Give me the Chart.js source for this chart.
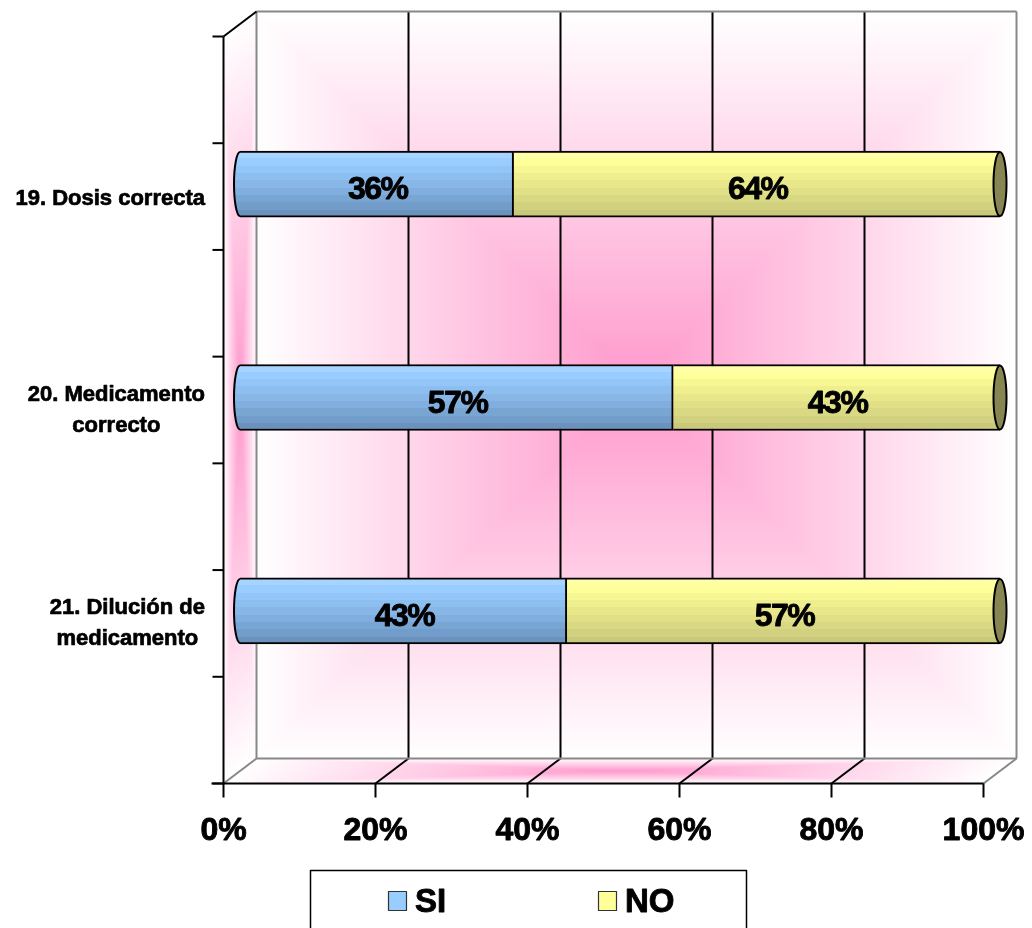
<!DOCTYPE html>
<html>
<head>
<meta charset="utf-8">
<script src="https://cdn.jsdelivr.net/npm/chart.js@4.4.0/dist/chart.umd.min.js"></script>
<style>
  html, body { margin: 0; padding: 0; background: #ffffff; }
  canvas { display: block; }
</style>
</head>
<body>
<canvas id="c" width="1032" height="928"></canvas>
<script>
// ---- data ----
const categories = [['19. Dosis correcta'], ['20. Medicamento', 'correcto'], ['21. Dilución de', 'medicamento']];
const seriesNames = ['SI', 'NO'];
const siValues = [36, 57, 43];
const noValues = [64, 43, 57];
const xTicks = [0, 20, 40, 60, 80, 100];

// each question sits between two empty slots on the category axis
const slotLabels = [''];
const siSlots = [null];
const noSlots = [null];
categories.forEach((c, i) => {
  slotLabels.push(c, '');
  siSlots.push(siValues[i], null);
  noSlots.push(noValues[i], null);
});

// ---- style ----
const FONT = '"Liberation Sans", Arial, Helvetica, sans-serif';
const DX = 16.5, DY = 12.5;           // half of the 3-D depth offset
const BAR_H = 66;
const BLUE_BANDS = ['#a6d3ff', '#99ccff', '#93c5f8', '#8dbef0', '#87b6e7', '#80aede', '#79a5d3', '#729cc9', '#6a92bd'];
const YELLOW_BANDS = ['#ffffa8', '#ffff99', '#f7f794', '#efef8f', '#e8e88b', '#e1e087', '#dad983', '#d2d17f', '#cac97b'];
const SWATCH = ['#99ccff', '#ffff99'];
const CAP_COLOR = '#878552';

function bandGradient(ctx, top, h, colors) {
  const g = ctx.createLinearGradient(0, top, 0, top + h);
  const n = colors.length;
  colors.forEach((c, i) => {
    g.addColorStop(i / n, c);
    g.addColorStop(Math.min(1, (i + 1) / n - 0.0005), c);
  });
  return g;
}

function barFill(bands, fallback) {
  return (ctx) => {
    const chart = ctx.chart;
    const y = chart.scales && chart.scales.y;
    if (!y || ctx.dataIndex === undefined || !chart.chartArea) return fallback;
    const cy = y.getPixelForValue(ctx.dataIndex);
    return bandGradient(chart.ctx, cy - BAR_H / 2, BAR_H, bands);
  };
}

// heavy bold text: fill plus a thin outline of the same colour
function boldText(ctx, s, x, y, weight) {
  ctx.fillText(s, x, y);
  ctx.lineWidth = weight;
  ctx.strokeStyle = ctx.fillStyle;
  ctx.lineJoin = 'round';
  ctx.strokeText(s, x, y);
}

// rectangular "from centre" shading of a parallelogram face: pink centre fading to white edges
function shadeFace(ctx, p0, a, b) {
  const pts = [p0, [p0[0] + a[0], p0[1] + a[1]], [p0[0] + b[0], p0[1] + b[1]], [p0[0] + a[0] + b[0], p0[1] + a[1] + b[1]]];
  const minX = Math.floor(Math.min(...pts.map(p => p[0])));
  const maxX = Math.ceil(Math.max(...pts.map(p => p[0])));
  const minY = Math.floor(Math.min(...pts.map(p => p[1])));
  const maxY = Math.ceil(Math.max(...pts.map(p => p[1])));
  const w = maxX - minX, h = maxY - minY;
  const off = document.createElement('canvas');
  off.width = w; off.height = h;
  const octx = off.getContext('2d');
  const img = octx.createImageData(w, h);
  const det = a[0] * b[1] - a[1] * b[0];
  for (let yy = 0; yy < h; yy++) {
    for (let xx = 0; xx < w; xx++) {
      const px = minX + xx + 0.5 - p0[0];
      const py = minY + yy + 0.5 - p0[1];
      const s = (px * b[1] - py * b[0]) / det;
      const t = (a[0] * py - a[1] * px) / det;
      if (s < 0 || s > 1 || t < 0 || t > 1) continue;
      const k = Math.max(Math.abs(2 * s - 1), Math.abs(2 * t - 1));
      const i = (yy * w + xx) * 4;
      img.data[i] = 255;
      img.data[i + 1] = Math.round(153 + 102 * k);
      img.data[i + 2] = Math.round(204 + 51 * k);
      img.data[i + 3] = 255;
    }
  }
  octx.putImageData(img, 0, 0);
  ctx.drawImage(off, minX, minY);
}

function line(ctx, x1, y1, x2, y2, color, width) {
  ctx.beginPath();
  ctx.moveTo(x1, y1);
  ctx.lineTo(x2, y2);
  ctx.strokeStyle = color;
  ctx.lineWidth = width;
  ctx.stroke();
}

const scenePlugin = {
  id: 'scene',
  beforeDatasetsDraw(chart) {
    const ctx = chart.ctx;
    const xs = chart.scales.x, ys = chart.scales.y;
    const a = chart.chartArea;
    const fL = a.left - DX, fR = a.right - DX, fT = a.top + DY, fB = a.bottom + DY;   // front plane
    const bL = a.left + DX, bR = a.right + DX, bT = a.top - DY, bB = a.bottom - DY;   // back plane
    ctx.save();
    // walls and floor
    shadeFace(ctx, [bL, bT], [bR - bL, 0], [0, bB - bT]);
    shadeFace(ctx, [fL, fT], [2 * DX, -2 * DY], [0, fB - fT]);
    shadeFace(ctx, [fL, fB], [fR - fL, 0], [2 * DX, -2 * DY]);

    const GRAY = '#878787';
    // gridlines on the back wall and across the floor
    xTicks.forEach((v, i) => {
      const x = xs.getPixelForValue(v);
      const edge = i === 0 || i === xTicks.length - 1;
      if (!edge) line(ctx, x + DX, bT, x + DX, bB, '#000000', 2);
      line(ctx, x - DX, fB, x + DX, bB, edge ? GRAY : '#000000', 2);
    });
    // back wall frame
    line(ctx, bL, bT, bR, bT, GRAY, 2);
    line(ctx, bL, bT, bL, bB, GRAY, 2);
    line(ctx, bR, bT, bR, bB, GRAY, 2);
    line(ctx, bL, bB, bR, bB, GRAY, 2);
    // side wall top edge
    line(ctx, fL, fT, bL, bT, '#000000', 2);
    // front axes
    line(ctx, fL, fT, fL, fB, '#000000', 2);
    line(ctx, fL - 12, fB, fR, fB, '#000000', 2);
    xTicks.forEach(v => {
      const x = xs.getPixelForValue(v) - DX;
      line(ctx, x, fB, x, fB + 14, '#000000', 2);
    });
    const band = (a.bottom - a.top) / slotLabels.length;
    for (let i = 0; i <= slotLabels.length; i++) {
      const y = (i < slotLabels.length ? ys.getPixelForValue(i) - band / 2 : a.bottom) + DY;
      line(ctx, fL - 11, y, fL, y, '#000000', 2);
    }
    ctx.restore();
  },
  afterDatasetsDraw(chart) {
    const ctx = chart.ctx;
    ctx.save();
    const siMeta = chart.getDatasetMeta(0);
    const noMeta = chart.getDatasetMeta(1);
    // rounded left ends and olive end caps of the cylinders
    siMeta.data.forEach((el, i) => {
      if (siSlots[i] === null) return;
      const h = el.height;
      ctx.beginPath();
      ctx.ellipse(el.base, el.y, 6, h / 2 - 1, 0, Math.PI / 2, Math.PI * 1.5);
      ctx.fillStyle = bandGradient(ctx, el.y - h / 2, h, BLUE_BANDS);
      ctx.fill();
      ctx.strokeStyle = '#000000';
      ctx.lineWidth = 2;
      ctx.stroke();
    });
    noMeta.data.forEach((el, i) => {
      if (noSlots[i] === null) return;
      const h = el.height;
      ctx.beginPath();
      ctx.ellipse(el.x, el.y, 6.5, h / 2 - 1, 0, 0, Math.PI * 2);
      ctx.fillStyle = CAP_COLOR;
      ctx.fill();
      ctx.strokeStyle = '#000000';
      ctx.lineWidth = 2;
      ctx.stroke();
    });
    // value labels inside each segment
    ctx.fillStyle = '#000000';
    ctx.font = 'bold 32px ' + FONT;
    ctx.textAlign = 'center';
    ctx.textBaseline = 'alphabetic';
    if ('letterSpacing' in ctx) ctx.letterSpacing = '-1.5px';
    [siMeta, noMeta].forEach((meta, d) => {
      const vals = d === 0 ? siSlots : noSlots;
      meta.data.forEach((el, i) => {
        if (vals[i] === null) return;
        boldText(ctx, vals[i] + '%', (el.base + el.x) / 2 + 1, el.y + 15, 0.9);
      });
    });
    if ('letterSpacing' in ctx) ctx.letterSpacing = '0px';
    ctx.restore();
  },
  afterDraw(chart) {
    const ctx = chart.ctx;
    const xs = chart.scales.x, ys = chart.scales.y;
    ctx.save();
    ctx.fillStyle = '#000000';
    // category labels
    ctx.font = 'bold 22px ' + FONT;
    ctx.textAlign = 'center';
    ctx.textBaseline = 'alphabetic';
    slotLabels.forEach((lab, i) => {
      if (!lab) return;
      const lines = Array.isArray(lab) ? lab : [lab];
      const maxW = Math.max(...lines.map(s => ctx.measureText(s).width));
      const cx = 205 - maxW / 2;
      const cy = ys.getPixelForValue(i) + DY;
      lines.forEach((s, j) => {
        boldText(ctx, s, cx, cy + 8 - (lines.length - 1) * 31 / 2 + j * 31 - (lines.length > 1 ? 2 : 0), 0.7);
      });
    });
    // value axis labels
    ctx.font = 'bold 32px ' + FONT;
    xTicks.forEach(v => {
      boldText(ctx, v + '%', xs.getPixelForValue(v) - DX, 840, 0.9);
    });
    // legend
    ctx.strokeStyle = '#000000';
    ctx.lineWidth = 1.5;
    ctx.strokeRect(310.5, 870.5, 436, 80);
    const items = [{ x: 388 }, { x: 598 }];
    ctx.textAlign = 'left';
    ctx.font = 'bold 33px ' + FONT;
    seriesNames.forEach((name, i) => {
      const x = items[i].x;
      ctx.fillStyle = SWATCH[i];
      ctx.fillRect(x, 891, 19, 20);
      ctx.strokeStyle = '#333333';
      ctx.lineWidth = 1.2;
      ctx.strokeRect(x + 0.5, 891.5, 18, 19);
      ctx.fillStyle = '#000000';
      boldText(ctx, name, x + 27, 912, 0.9);
    });
    ctx.restore();
  }
};

new Chart(document.getElementById('c'), {
  type: 'bar',
  data: {
    labels: slotLabels,
    datasets: [
      {
        label: seriesNames[0],
        data: siSlots,
        backgroundColor: barFill(BLUE_BANDS, SWATCH[0]),
        borderColor: '#000000',
        borderWidth: 2,
        borderSkipped: 'start',
        barThickness: BAR_H
      },
      {
        label: seriesNames[1],
        data: noSlots,
        backgroundColor: barFill(YELLOW_BANDS, SWATCH[1]),
        borderColor: '#000000',
        borderWidth: 2,
        borderSkipped: 'start',
        barThickness: BAR_H
      }
    ]
  },
  options: {
    indexAxis: 'y',
    responsive: false,
    devicePixelRatio: 1,
    animation: false,
    layout: { padding: { left: 240, right: 32, top: 24, bottom: 157 } },
    scales: {
      x: { stacked: true, min: 0, max: 100, display: false },
      y: { stacked: true, display: false, offset: true }
    },
    plugins: {
      legend: { display: false },
      tooltip: { enabled: false }
    }
  },
  plugins: [scenePlugin]
});
</script>
</body>
</html>
